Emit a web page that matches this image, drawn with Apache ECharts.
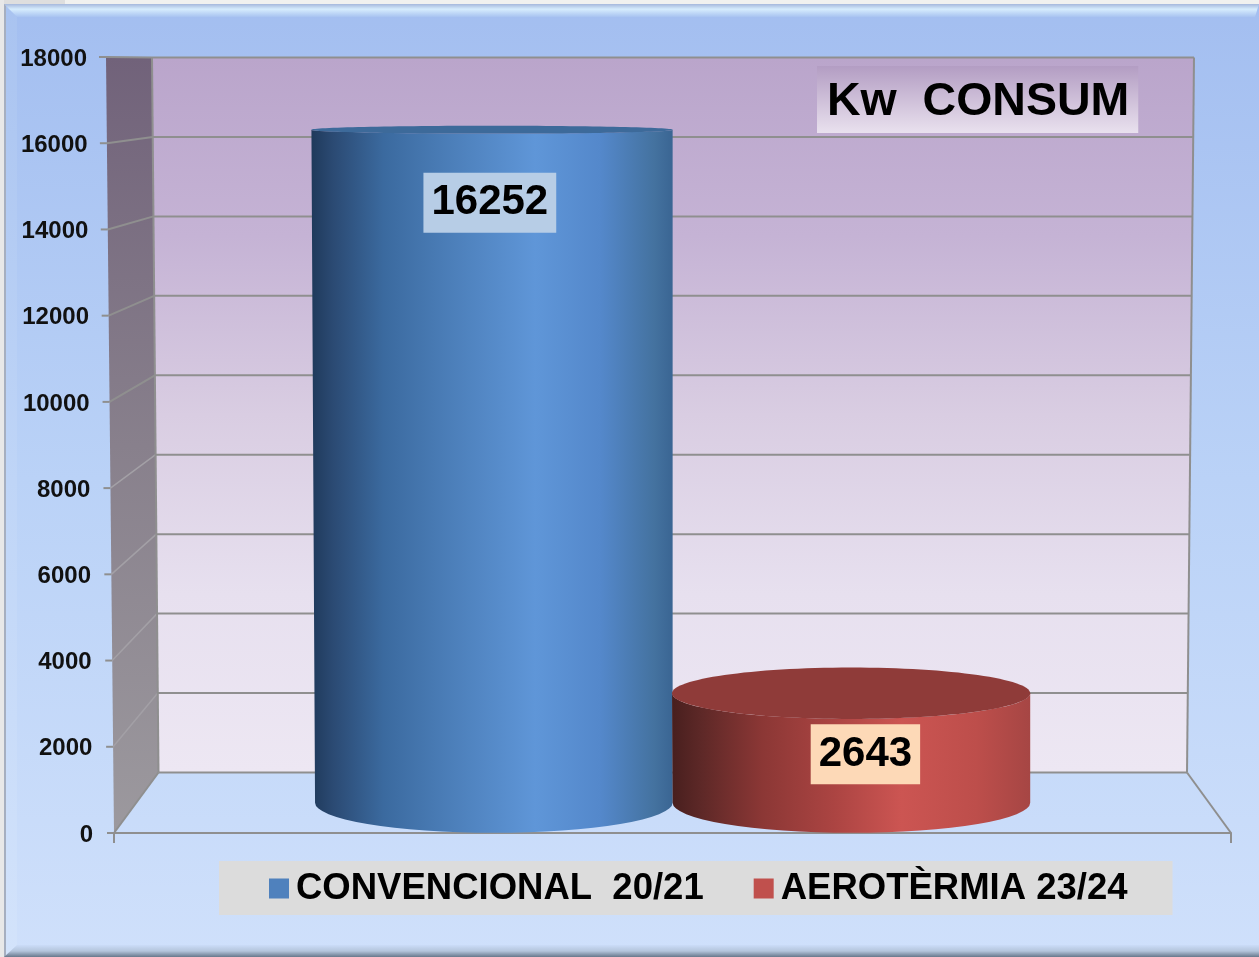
<!DOCTYPE html>
<html><head><meta charset="utf-8">
<style>html,body{margin:0;padding:0;background:#f1f1ef}#c{width:1259px;height:957px}</style>
<script src="https://cdn.jsdelivr.net/npm/echarts@6/dist/echarts.min.js"></script>
</head><body><div id="c"></div>
<script>
const categories = ['Consum'];
const seriesNames = ['CONVENCIONAL  20/21', 'AEROTÈRMIA 23/24'];
const convencional = [16252];
const aerotermia = [2643];
const tickValues = [0, 2000, 4000, 6000, 8000, 10000, 12000, 14000, 16000, 18000];
const titleText = 'Kw  CONSUM';

const FONT = '"Liberation Sans", Arial, sans-serif';
const LINE = '#8f8f8f';
const AX0 = 833, AXH = 776;      // y of value 0 on the front plane, height of plane
const BK0 = 772.5, BKH = 715;    // same on the back wall

const chart = echarts.init(document.getElementById('c'), null, {renderer: 'canvas'});

const toBack = y => BK0 - (AX0 - y) * BKH / AXH;
const t = y => (AX0 - y) / AXH;
const frontL = y => 114 - 8 * t(y);
const backL = y => 158.5 - 6.5 * t(y);
const backR = y => 1187 + 7 * t(y);
const frontR = () => 1231;

function grad(stops, horizontal) {
  return {type: 'linear', x: 0, y: 0, x2: horizontal ? 1 : 0, y2: horizontal ? 0 : 1,
    colorStops: stops.map(s => ({offset: s[0], color: s[1]}))};
}

function renderWalls(params, api) {
  const yOf = v => api.coord([0, v])[1];
  const top = yOf(tickValues[tickValues.length - 1]);
  const bot = yOf(tickValues[0]);
  const bTop = toBack(top), bBot = toBack(bot);
  const kids = [];
  kids.push({type: 'polygon', shape: {points: [[backL(top), bTop], [backR(top), bTop], [backR(bot), bBot], [backL(bot), bBot]]},
    style: {fill: grad([[0, '#baa5cb'], [0.25, '#c5b3d5'], [0.5, '#d9cde2'], [0.75, '#e7e0ef'], [1, '#ede7f3']])}});
  kids.push({type: 'polygon', shape: {points: [[frontL(top), top], [backL(top), bTop], [backL(bot), bBot], [frontL(bot), bot]]},
    style: {fill: grad([[0, '#71627a'], [0.5, '#88808c'], [1, '#9c999e']])}});
  tickValues.forEach(v => {
    const y = yOf(v), by = toBack(y);
    const l = {stroke: LINE, lineWidth: 2};
    if (v > 0) kids.push({type: 'line', shape: {x1: backL(y), y1: by, x2: backR(y), y2: by}, style: l});
    kids.push({type: 'line', shape: {x1: frontL(y) - 7, y1: y, x2: frontL(y), y2: y}, style: l});
    if (v > 0) kids.push({type: 'line', shape: {x1: frontL(y), y1: y, x2: backL(y), y2: by},
      style: {stroke: v > 8000 ? LINE : '#a3a0a6', lineWidth: v > 8000 ? 2 : 1.5}});
  });
  const b = {stroke: LINE, lineWidth: 2};
  kids.push({type: 'line', shape: {x1: backL(top), y1: bTop, x2: backL(bot), y2: bBot}, style: b});
  kids.push({type: 'line', shape: {x1: backR(top), y1: bTop, x2: backR(bot), y2: bBot}, style: b});
  kids.push({type: 'line', shape: {x1: backL(bot), y1: bBot, x2: backR(bot), y2: bBot}, style: b});
  kids.push({type: 'line', shape: {x1: frontL(bot), y1: bot, x2: backL(bot), y2: bBot}, style: b});
  kids.push({type: 'line', shape: {x1: frontR(), y1: bot, x2: backR(bot), y2: bBot}, style: b});
  return {type: 'group', children: kids};
}

function cylinder(index, side, top, label, lx, ly) {
  return function (params, api) {
    const value = api.value(1);
    const yFront0 = api.coord([0, 0])[1];
    const yFrontV = api.coord([0, value])[1];
    const mid = y => (y + toBack(y)) / 2;
    const y0 = mid(yFront0), yV = mid(yFrontV);
    const midL = (frontL(yFront0) + backL(yFront0)) / 2;
    const midR = (frontR() + backR(yFront0)) / 2;
    const w = (midR - midL) / 3;
    const x1 = midL + w / 2 + index * w, x2 = x1 + w;
    const slant = 4 * t(yFrontV);
    const rv = 4 + (yV < y0 ? (yV - 131) * 0.0387 : 0);
    const r0 = 30;
    const cx = (x1 + x2) / 2;
    const rx = w / 2;
    const front = `M${x1 - slant} ${yV} A${rx + slant / 2} ${rv} 0 0 0 ${x2} ${yV} L${x2} ${y0} A${rx} ${r0} 0 0 1 ${x1} ${y0} Z`;
    return {type: 'group', children: [
      {type: 'path', shape: {pathData: front}, style: {fill: grad(side, true)}},
      {type: 'ellipse', shape: {cx: cx - slant / 2, cy: yV, rx: rx + slant / 2, ry: rv}, style: {fill: top}},
      {type: 'text', style: {text: String(value), x: cx + lx, y: yV + ly, align: 'center', verticalAlign: 'middle',
        font: 'bold 42px ' + FONT, fill: '#000', backgroundColor: label, padding: [11, 8, 7, 8]}}
    ]};
  };
}

const richLabels = {};
tickValues.forEach(v => {
  richLabels['t' + v] = {fontFamily: FONT, fontWeight: 'bold', fontSize: 24, color: '#111',
    padding: [4, 6 * (v / 18000), 0, 0]};
});

chart.setOption({
  animation: false,
  backgroundColor: grad([[0, '#a3bef0'], [0.5, '#bad2f7'], [1, '#cfe0fb']]),
  title: {
    text: titleText, left: 817, top: 67, padding: [13, 9, 7, 10],
    backgroundColor: grad([[0, '#b39dc3'], [1, '#e9e1ee']]),
    textStyle: {fontFamily: FONT, fontWeight: 'bold', fontSize: 46.5, color: '#000', lineHeight: 45}
  },
  legend: {
    left: 219, top: 861, width: 1000, padding: [9, 45, 8, 50],
    data: seriesNames, itemWidth: 20, itemHeight: 20, itemGap: 50, icon: 'rect',
    backgroundColor: '#dcdcdc', selectedMode: false,
    textStyle: {fontFamily: FONT, fontWeight: 'bold', fontSize: 36.5, color: '#000', padding: [6, 0, 0, 2]}
  },
  grid: {left: 114, right: 28, top: 57, bottom: 124, containLabel: false},
  xAxis: {type: 'category', data: categories,
    axisLine: {lineStyle: {color: LINE, width: 2}},
    axisTick: {show: true, length: 10, lineStyle: {color: LINE, width: 2}},
    axisLabel: {show: false}},
  yAxis: {type: 'value', min: 0, max: 18000, interval: 2000,
    axisLine: {show: false}, axisTick: {show: false}, splitLine: {show: false},
    axisLabel: {margin: 21, formatter: v => `{t${v}|${v}}`, rich: richLabels}},
  series: [
    {type: 'custom', name: 'walls', z: 1, silent: true, renderItem: renderWalls, data: [[0, 0]], encode: {x: 0, y: 1}},
    {type: 'custom', name: seriesNames[0], z: 2, itemStyle: {color: '#4f81bd'},
     renderItem: cylinder(0,
       [[0, '#1f3a5b'], [0.06, '#2b4a73'], [0.2, '#3b6a9f'], [0.4, '#4d80bb'], [0.62, '#5f96d8'], [0.8, '#5488cb'], [0.95, '#44729f'], [1, '#3a6593']],
       '#3d6a9a', '#b7cde6', -4, 73),
     data: [[0, convencional[0]]], encode: {x: 0, y: 1}},
    {type: 'custom', name: seriesNames[1], z: 3, itemStyle: {color: '#c0504d'},
     renderItem: cylinder(1,
       [[0, '#481f1e'], [0.08, '#5d2827'], [0.25, '#8b3735'], [0.45, '#ab4442'], [0.64, '#cc5552'], [0.85, '#bd4e4b'], [1, '#a64644']],
       '#8f3b39', '#fdd9b7', 14, 61),
     data: [[0, aerotermia[0]]], encode: {x: 0, y: 1}}
  ],
  graphic: [
    {type: 'polygon', z: 99, shape: {points: [[4, 4], [17, 17], [17, 945], [4, 957]]},
     style: {fill: grad([[0, '#a9c3f0'], [0.5, '#bfd5f7'], [1, '#d3e3fb']])}},
    {type: 'rect', z: 99, shape: {x: 4, y: 4, width: 2, height: 953}, style: {fill: '#a6afc0'}},
    {type: 'polygon', z: 99, shape: {points: [[4, 4], [1259, 4], [1255, 17], [17, 17]]},
     style: {fill: grad([[0, '#a6b8dc'], [0.4, '#d6ecfd'], [1, '#a8c3f1']])}},
    {type: 'polygon', z: 99, shape: {points: [[4, 957], [17, 945], [1259, 945], [1259, 957]]},
     style: {fill: grad([[0, '#cbdcf8'], [0.5, '#b4c5dc'], [1, '#68788c']])}},
    {type: 'rect', z: 100, shape: {x: 0, y: 0, width: 1259, height: 4}, style: {fill: '#f1f1ef'}},
    {type: 'rect', z: 100, shape: {x: 0, y: 0, width: 65, height: 4}, style: {fill: '#dedede'}},
    {type: 'rect', z: 100, shape: {x: 0, y: 0, width: 4, height: 957}, style: {fill: '#e8e8e8'}}
  ]
});
</script></body></html>
